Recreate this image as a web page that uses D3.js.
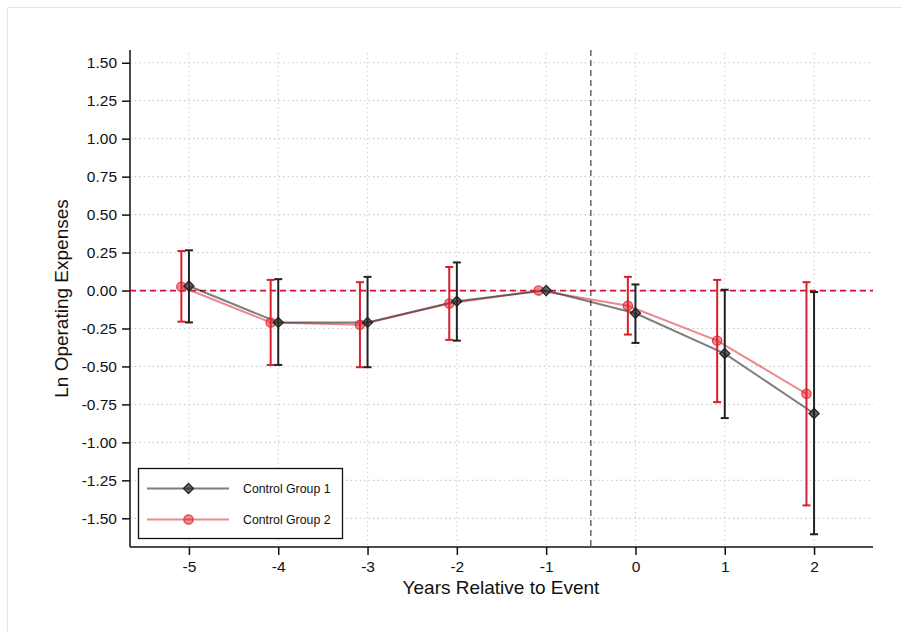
<!DOCTYPE html>
<html>
<head>
<meta charset="utf-8">
<script src="https://cdn.jsdelivr.net/npm/d3@7"></script>
<style>
  html, body { margin: 0; padding: 0; background: #fff; }
  svg { display: block; font-family: "Liberation Sans", Arial, Helvetica, sans-serif; }
</style>
</head>
<body>
<svg id="chart" width="902" height="633"></svg>
<script>
// Event-time periods
const years = [-5, -4, -3, -2, -1, 0, 1, 2];

// Control Group 1: point estimates and 95% CI bounds
const group1Est   = [0.03, -0.21, -0.21, -0.07, 0, -0.15, -0.415, -0.81];
const group1Lower = [-0.21, -0.49, -0.505, -0.33, 0, -0.345, -0.84, -1.605];
const group1Upper = [0.265, 0.075, 0.09, 0.185, 0, 0.04, 0.005, -0.01];

// Control Group 2: point estimates and 95% CI bounds
const group2Est   = [0.025, -0.21, -0.225, -0.085, 0, -0.10, -0.33, -0.68];
const group2Lower = [-0.205, -0.49, -0.505, -0.325, 0, -0.29, -0.735, -1.415];
const group2Upper = [0.26, 0.07, 0.055, 0.155, 0, 0.09, 0.07, 0.055];

const yTicks = [1.5, 1.25, 1, 0.75, 0.5, 0.25, 0, -0.25, -0.5, -0.75, -1, -1.25, -1.5];
const xTicks = years;
const seriesNames = ["Control Group 1", "Control Group 2"];

const svg = d3.select("#chart");

// Figure frame
svg.append("rect")
  .attr("x", 7.5).attr("y", 7.5).attr("width", 900).attr("height", 640)
  .attr("fill", "#fff").attr("stroke", "#e6e6e6").attr("stroke-width", 1);

const plot = { left: 130, right: 873, top: 50, bottom: 547 };

const x = d3.scaleLinear().domain([-5.66, 2.66]).range([plot.left, plot.right]);
const y = d3.scaleLinear().domain([-1.689, 1.584]).range([plot.bottom, plot.top]);

// Plain hyphen-minus for negative tick labels
const hyph = f => d => f(d).replace("\u2212", "-");

// Gridlines
const grid = svg.append("g");
grid.selectAll("line.hg").data(yTicks).join("line")
  .attr("x1", plot.left).attr("x2", plot.right)
  .attr("y1", d => y(d)).attr("y2", d => y(d))
  .attr("stroke", "#c4cfd3").attr("stroke-width", 1.2)
  .attr("stroke-dasharray", "1.5,3");
grid.selectAll("line.vg").data(xTicks).join("line")
  .attr("x1", d => x(d)).attr("x2", d => x(d))
  .attr("y1", plot.top + 3).attr("y2", plot.bottom)
  .attr("stroke", "#d3d8da").attr("stroke-width", 1.2)
  .attr("stroke-dasharray", "1.5,3");

// Event marker
svg.append("line")
  .attr("x1", x(-0.5)).attr("x2", x(-0.5))
  .attr("y1", plot.top).attr("y2", plot.bottom)
  .attr("stroke", "#666").attr("stroke-width", 1.5)
  .attr("stroke-dasharray", "6,4");

// Axes
const yAxis = d3.axisLeft(y).tickValues(yTicks).tickFormat(hyph(d3.format(".2f"))).tickSize(8).tickPadding(5);
const xAxis = d3.axisBottom(x).tickValues(xTicks).tickFormat(hyph(d3.format("d"))).tickSize(8).tickPadding(6);

const gy = svg.append("g").attr("transform", `translate(${plot.left},0)`).call(yAxis);
const gx = svg.append("g").attr("transform", `translate(0,${plot.bottom})`).call(xAxis);
[gy, gx].forEach(g => {
  g.select(".domain").attr("stroke", "#111").attr("stroke-width", 1.5);
  g.selectAll(".tick line").attr("stroke", "#111").attr("stroke-width", 1.5);
  g.selectAll(".tick text").attr("fill", "#111").style("font-size", "15.5px")
    .style("font-family", "'Liberation Sans', Arial, sans-serif");
});
gy.select(".domain").attr("d", `M0,${plot.top}V${plot.bottom}`);
gx.select(".domain").attr("d", `M${plot.left},0H${plot.right}`);

// Zero reference line
svg.append("line")
  .attr("x1", plot.left).attr("x2", plot.right)
  .attr("y1", y(0)).attr("y2", y(0))
  .attr("stroke", "#d0103a").attr("stroke-width", 1.8)
  .attr("stroke-dasharray", "6,4");

// Axis titles
svg.append("text")
  .attr("x", 501).attr("y", 594)
  .attr("text-anchor", "middle").attr("fill", "#111")
  .style("font-size", "19px").text("Years Relative to Event");
svg.append("text")
  .attr("transform", `translate(68,${(plot.top + plot.bottom) / 2}) rotate(-90)`)
  .attr("text-anchor", "middle").attr("fill", "#111")
  .style("font-size", "19px").text("Ln Operating Expenses");

// Series
const offset2 = -0.085;
const s1 = years.map((t, i) => ({ t, est: group1Est[i], lo: group1Lower[i], hi: group1Upper[i] }));
const s2 = years.map((t, i) => ({ t: t + offset2, est: group2Est[i], lo: group2Lower[i], hi: group2Upper[i] }));

const line = d3.line().x(d => x(d.t)).y(d => y(d.est));

const styles = [
  { data: s1, line: "rgba(40,40,40,0.6)", bar: "#222", shape: d3.symbolSquare, rot: 45, mfill: "rgba(40,40,40,0.7)", mstroke: "#222", size: 52 },
  { data: s2, line: "rgba(220,40,50,0.55)", bar: "#d8202c", shape: d3.symbolCircle, rot: 0, mfill: "rgba(225,40,50,0.55)", mstroke: "rgba(215,30,40,0.8)", size: 68 }
];

// Lines first (drawn under all bars and markers)
styles.slice().reverse().forEach(s => {
  svg.append("path").datum(s.data).attr("d", line)
    .attr("fill", "none").attr("stroke", s.line).attr("stroke-width", 2);
});

styles.slice().reverse().forEach(s => {
  const g = svg.append("g");
  const withCI = s.data.filter(d => d.hi !== d.lo);
  g.selectAll("line.ci").data(withCI).join("line")
    .attr("x1", d => x(d.t)).attr("x2", d => x(d.t))
    .attr("y1", d => y(d.lo)).attr("y2", d => y(d.hi))
    .attr("stroke", s.bar).attr("stroke-width", 2);
  ["lo", "hi"].forEach(k => {
    g.selectAll(`line.cap-${k}`).data(withCI).join("line")
      .attr("x1", d => x(d.t) - 4).attr("x2", d => x(d.t) + 4)
      .attr("y1", d => y(d[k])).attr("y2", d => y(d[k]))
      .attr("stroke", s.bar).attr("stroke-width", 2);
  });
  g.selectAll("path.m").data(s.data).join("path")
    .attr("transform", d => `translate(${x(d.t)},${y(d.est)}) rotate(${s.rot})`)
    .attr("d", d3.symbol().type(s.shape).size(s.size))
    .attr("fill", s.mfill).attr("stroke", s.mstroke).attr("stroke-width", 1.2);
});

// Legend
const lg = svg.append("g");
lg.append("rect").attr("x", 138.5).attr("y", 468.5).attr("width", 204).attr("height", 70)
  .attr("fill", "#fff").attr("stroke", "#111").attr("stroke-width", 1.3);
styles.forEach((s, i) => {
  const cy = 488.5 + i * 31;
  lg.append("line").attr("x1", 147).attr("x2", 229).attr("y1", cy).attr("y2", cy)
    .attr("stroke", s.line).attr("stroke-width", 2);
  lg.append("path").attr("transform", `translate(188.5,${cy}) rotate(${s.rot})`)
    .attr("d", d3.symbol().type(s.shape).size(s.size))
    .attr("fill", s.mfill).attr("stroke", s.mstroke).attr("stroke-width", 1.2);
  lg.append("text").attr("x", 243).attr("y", cy + 4.5).attr("fill", "#111")
    .style("font-size", "12.3px").text(seriesNames[i]);
});
</script>
</body>
</html>
